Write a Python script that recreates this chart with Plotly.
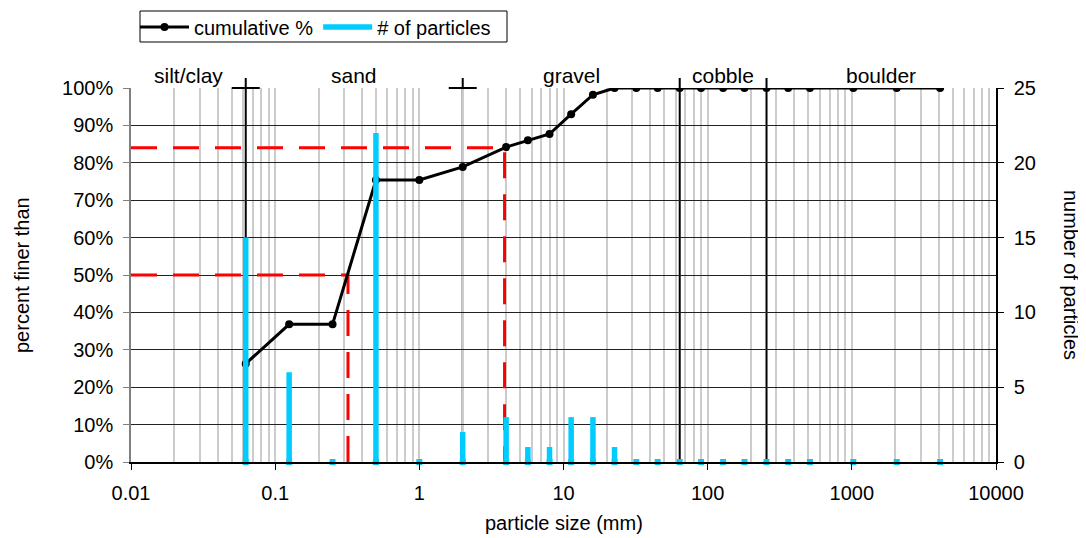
import math
import plotly.graph_objects as go

# ---- data ----
sizes_mm = [0.0625, 0.125, 0.25, 0.5, 1, 2, 4, 5.66, 8, 11.3, 16, 22.6,
            32, 45, 64, 90, 128, 180, 256, 362, 512, 1024, 2048, 4096]
cumulative_pct = [26.3, 36.8, 36.8, 75.4, 75.4, 78.9, 84.2, 86.0, 87.7, 93.0, 98.2, 100,
                  100, 100, 100, 100, 100, 100, 100, 100, 100, 100, 100, 100]
num_particles = [15, 6, 0, 22, 0, 2, 3, 1, 1, 3, 3, 1,
                 0, 0, 0, 0, 0, 0, 0, 0, 0, 0, 0, 0]

class_names = ["silt/clay", "sand", "gravel", "cobble", "boulder"]
class_bounds = [0.01, 0.0625, 2, 64, 256, 10000]

D50 = 0.32
D84 = 3.9

x_tickvals = [0.01, 0.1, 1, 10, 100, 1000, 10000]
x_ticktext = ["0.01", "0.1", "1", "10", "100", "1000", "10000"]

FONT = "Liberation Sans, Arial, sans-serif"
CYAN = "#00ccff"

# figure geometry (page body has an 8px margin)
W, H = 1078, 530
ML, MR, MT, MB = 123, 90, 80, 76
PW, PH = W - ML - MR, H - MT - MB


def px_x(px):  # page pixel -> paper x
    return (px - 8 - ML) / PW


def px_y(py):  # page pixel -> paper y
    return (H - MB - (py - 8)) / PH


fig = go.Figure()

# red dashed D50 / D84 guides
for d, p in [(D50, 50), (D84, 84)]:
    fig.add_trace(go.Scatter(
        x=[class_bounds[0], d, d], y=[p, p, 0], mode="lines",
        line=dict(color="#ff0000", width=3, dash="26px,16px"),
        showlegend=False, hoverinfo="skip"))

# cumulative curve
fig.add_trace(go.Scatter(
    x=sizes_mm, y=cumulative_pct, mode="lines+markers", name="cumulative %",
    line=dict(color="black", width=3),
    marker=dict(color="black", size=8)))

# "+" ticks at top of boundaries
fig.add_trace(go.Scatter(
    x=class_bounds[1:3], y=[100, 100], mode="markers",
    marker=dict(symbol="line-ew", size=20, line=dict(color="black", width=2)),
    showlegend=False, hoverinfo="skip", cliponaxis=False))

# particle count bars as thick segments on secondary axis
bx, by = [], []
for s, n in zip(sizes_mm, num_particles):
    bx += [s, s, None]
    by += [0, n, None]
fig.add_trace(go.Scatter(
    x=bx, y=by, yaxis="y2", mode="lines", name="# of particles",
    line=dict(color=CYAN, width=5.5), connectgaps=False))
fig.add_trace(go.Scatter(
    x=sizes_mm, y=[0] * len(sizes_mm), yaxis="y2", mode="markers",
    marker=dict(symbol="square", size=6, color=CYAN, line=dict(width=0)),
    showlegend=False, hoverinfo="skip", cliponaxis=False))

# class boundary lines
shapes = []
for b in class_bounds[1:-1]:
    shapes.append(dict(type="line", xref="x", yref="paper", x0=b, x1=b, y0=0, y1=1.027,
                       line=dict(color="black", width=2), layer="below"))
# legend frame
shapes.append(dict(type="rect", xref="paper", yref="paper",
                   x0=px_x(140), x1=px_x(507), y0=px_y(42), y1=px_y(11),
                   line=dict(color="black", width=1), fillcolor="rgba(0,0,0,0)"))

# class labels centered in log space
annotations = []
for i, name in enumerate(class_names):
    mid = (math.log10(class_bounds[i]) + math.log10(class_bounds[i + 1])) / 2
    annotations.append(dict(x=mid, y=px_y(75), xref="x", yref="paper", text=name,
                            showarrow=False, yanchor="middle", xanchor="center",
                            font=dict(size=21, color="black", family=FONT)))
annotations.append(dict(x=px_x(1071), y=px_y(275), xref="paper", yref="paper",
                        text="number of particles", textangle=90, showarrow=False,
                        xanchor="center", yanchor="middle",
                        font=dict(size=20, color="black", family=FONT)))
annotations.append(dict(x=px_x(22), y=px_y(275), xref="paper", yref="paper",
                        text="percent finer than", textangle=-90, showarrow=False,
                        xanchor="center", yanchor="middle",
                        font=dict(size=20, color="black", family=FONT)))
annotations.append(dict(x=px_x(564), y=px_y(523), xref="paper", yref="paper",
                        text="particle size (mm)", showarrow=False,
                        xanchor="center", yanchor="middle",
                        font=dict(size=20, color="black", family=FONT)))

minor_vals = []
for e in range(-2, 4):
    for k in range(2, 10):
        minor_vals.append(k * 10 ** e)

fig.update_layout(
    width=W, height=H,
    margin=dict(l=ML, r=MR, t=MT, b=MB),
    paper_bgcolor="white", plot_bgcolor="white",
    font=dict(family=FONT, size=20, color="black"),
    shapes=shapes, annotations=annotations,
    legend=dict(orientation="h", xref="container", yref="container",
                x=(135 - 8) / W, y=1 - (27 - 8) / H, xanchor="left", yanchor="middle",
                borderwidth=0, bgcolor="rgba(0,0,0,0)", font=dict(size=20),
                itemwidth=49, tracegroupgap=0),
    xaxis=dict(type="log", range=[-2, 4], tickvals=x_tickvals, ticktext=x_ticktext,
               showgrid=True, gridcolor="#cccccc", gridwidth=1.5,
               minor=dict(tickvals=minor_vals, showgrid=True, gridcolor="#cccccc",
                          gridwidth=1.5, ticks=""),
               ticks="outside", ticklen=6, tickcolor="black", ticklabelstandoff=6,
               showline=True, linecolor="black", linewidth=1.5,
               zeroline=False),
    yaxis=dict(range=[0, 100], dtick=10, ticksuffix="%",
               showgrid=True, gridcolor="#222222", gridwidth=1,
               ticks="outside", ticklen=6, tickcolor="#808080", ticklabelstandoff=6,
               showline=True, linecolor="#808080", linewidth=1.5,
               zeroline=False),
    yaxis2=dict(range=[0, 25], dtick=5, overlaying="y", side="right",
                showgrid=False, zeroline=False,
                ticks="outside", ticklen=6, tickcolor="black", ticklabelstandoff=6,
                showline=True, linecolor="black", linewidth=1.5),
)

fig.write_html("out.html")
